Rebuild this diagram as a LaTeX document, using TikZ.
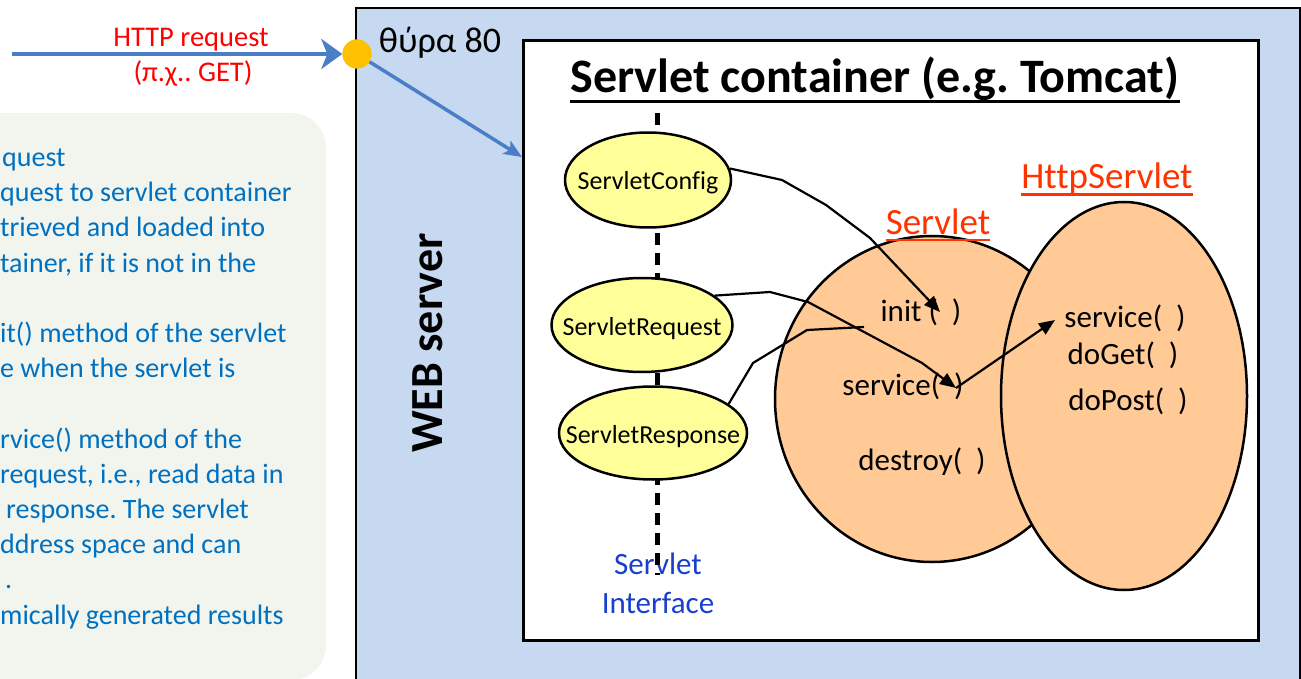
\documentclass[tikz,border=0pt]{standalone}
\usepackage{fontspec}
\setmainfont{Carlito}[Ligatures=NoCommon]
\usetikzlibrary{shapes.geometric,arrows.meta}
\frenchspacing
\definecolor{webblue}{HTML}{C6D9F0}
\definecolor{notebg}{HTML}{F2F5EE}
\definecolor{notetext}{HTML}{0070C0}
\definecolor{peach}{HTML}{FFCA96}
\definecolor{lightyellow}{HTML}{FFFF99}
\definecolor{portdot}{HTML}{FFC000}
\definecolor{flowblue}{HTML}{4A7EC6}
\definecolor{labelred}{HTML}{FF3300}
\definecolor{ifblue}{HTML}{1A3FCC}
\newcommand\myfs[1]{\fontsize{#1}{#1}\selectfont}
\begin{document}
\begin{tikzpicture}[x=1pt,y=-1pt,
  txt/.style={inner sep=0pt, anchor=base},
  lefttxt/.style={inner sep=0pt, anchor=base west, text=notetext, font=\myfs{28}},
  method/.style={inner sep=0pt, anchor=base, font=\myfs{31}},
  iface/.style={ellipse, draw, line width=2.5pt, fill=lightyellow, inner sep=0pt},
  ifacetxt/.style={inner sep=0pt, anchor=base, font=\myfs{26}},
  cls/.style={ellipse, draw, line width=2.5pt, fill=peach, inner sep=0pt},
  clslabel/.style={inner sep=0pt, anchor=base, text=labelred, font=\myfs{37}},
  call/.style={line width=2.2pt, -{Triangle[length=16pt,width=13pt]}},
  wire/.style={line width=2.2pt},
  flow/.style={draw=flowblue, line width=4pt},
]
\useasboundingbox (0,0) rectangle (1301,679);
\clip (0,0) rectangle (1301,679);

% web server box and note panel
\draw[fill=webblue, line width=2pt] (356,8) rectangle (1300,720);
\fill[notebg, rounded corners=35pt] (-60,113) rectangle (326,680);

\node[lefttxt] (n1) at (2,166.5) {quest};
\node[lefttxt] (n2) at (0,201.7) {quest to servlet container};
\node[lefttxt] (n3) at (0,236.9) {trieved and loaded into};
\node[lefttxt] (n4) at (0,272.1) {tainer, if it is not in the};
\node[lefttxt] (n5) at (0,342.5) {it() method of the servlet};
\node[lefttxt] (n6) at (0,377.7) {e when the servlet is};
\node[lefttxt] (n7) at (0,448.1) {rvice() method of the};
\node[lefttxt] (n8) at (0,483.3) {request, i.e., read data in};
\node[lefttxt] (n9) at (6,518.5) {response. The servlet};
\node[lefttxt] (n10) at (0,553.7) {ddress space and can};
\node[lefttxt] (n11) at (5,588.9) {.};
\node[lefttxt] (n12) at (0,624.1) {mically generated results};

% container
\node[draw, fill=white, line width=3pt, minimum width=735pt, minimum height=600pt,
      inner sep=0pt, anchor=north west] (container) at (522,39) {};
\coordinate (entry) at (522,157);
\coordinate (client) at (12,54);

\node[txt, text=red, font=\myfs{28.5}] (httpreq) at (191,47) {HTTP request};
\node[txt, text=red, font=\myfs{28.5}] (httpget) at (193,82) {(π.χ.. GET)};
\node[txt, font=\myfs{36}] (portlbl) at (440,53) {θύρα 80};

\node[circle, fill=portdot, minimum size=29pt, inner sep=0pt] (port) at (357,54) {};
\draw[flow, -{Stealth[length=21pt,width=30pt,inset=6pt]}] (client) -- (port.west);
\draw[flow, line width=3.5pt, -{Stealth[length=18pt,width=15pt,inset=4pt]}] (port) -- (entry);
\node[circle, fill=portdot, minimum size=29pt, inner sep=0pt] (portdot) at (357,54) {};

\node[txt, font=\bfseries\myfs{48}] (title) at (875,93) {Servlet container (e.g. Tomcat)};
\draw[line width=3pt] ([yshift=-8.5pt]title.base west) -- ([yshift=-8.5pt]title.base east);

\node[txt, font=\bfseries\myfs{46}, rotate=90] (web) at (442,343) {WEB server};

% servlet interface column
\node[txt, text=ifblue, font=\myfs{31}] (ifaceA) at (658,574) {Servlet};
\node[txt, text=ifblue, font=\myfs{31}] (ifaceB) at (658,613) {Interface};
\coordinate (ifTop) at (657,113);
\coordinate (ifBot) at (657,575);
\draw[line width=5pt, dash pattern=on 12pt off 8pt] (ifTop) -- (ifBot);

\node[iface, minimum width=166pt, minimum height=95pt] (cfg) at (648,180) {};
\node[iface, minimum width=181pt, minimum height=94pt] (req) at (642,325) {};
\node[iface, minimum width=188pt, minimum height=93pt] (resp) at (653,433) {};
\node[ifacetxt] (cfgT) at (648,190) {ServletConfig};
\node[ifacetxt] (reqT) at (642,335) {ServletRequest};
\node[ifacetxt] (respT) at (653,443) {ServletResponse};

% servlet classes
\node[cls, minimum width=314pt, minimum height=326pt] (servlet) at (932,399) {};
\node[cls, minimum width=246pt, minimum height=388pt] (http) at (1124,396) {};
\node[clslabel] (servletL) at (938,234) {Servlet};
\draw[labelred, line width=2.5pt] ([yshift=-6pt]servletL.base west) -- ([yshift=-6pt]servletL.base east);
\node[clslabel] (httpL) at (1107,189) {HttpServlet};
\draw[labelred, line width=2.5pt] ([yshift=-5.5pt]httpL.base west) -- ([yshift=-5.5pt]httpL.base east);

\node[method] (initT) at (921,321) {init (\ \ )};
\node[method] (svcT) at (903,395) {service(\ \ )};
\node[method] (destroyT) at (922,470) {destroy(\ \ )};
\node[method] (hsvcT) at (1125,327) {service(\ \ )};
\node[method] (getT) at (1123,364) {doGet(\ \ )};
\node[method] (postT) at (1128,410) {doPost(\ \ )};

% connectors
\coordinate (initTip) at (940,312);
\coordinate (svcTip) at (956,388);
\coordinate (hsvcTip) at (1055,320);
\coordinate (respEnd) at (864,327);
\draw[call] (cfg.8) -- (782,180) -- (826,205) -- (870,238) -- (initTip);
\draw[call] (req.22) -- (770,292) -- (808,302) -- (922,363) -- (svcTip);
\draw[wire] (resp.21) -- (753,363) -- (807,330) -- (respEnd);
\draw[call] (svcTip) -- (hsvcTip);
\end{tikzpicture}
\end{document}
